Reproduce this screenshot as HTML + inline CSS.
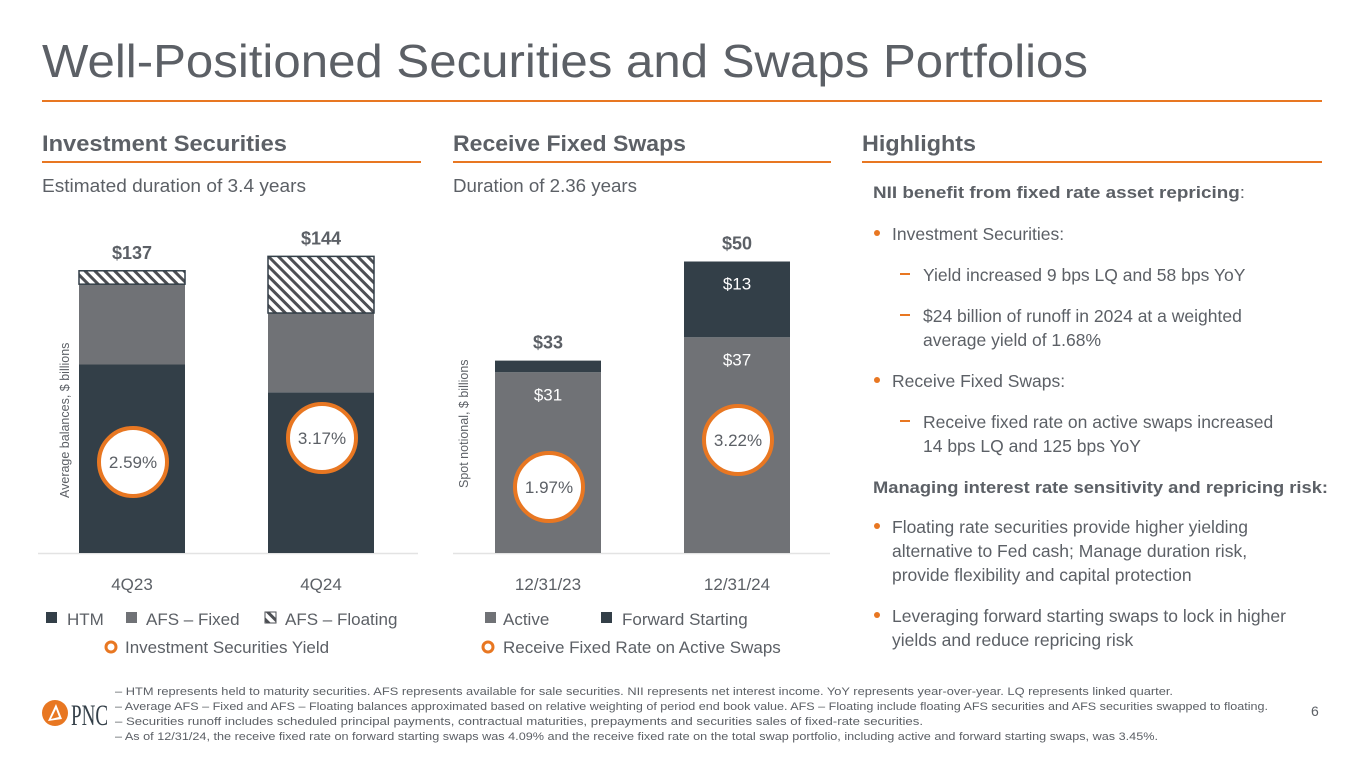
<!DOCTYPE html>
<html><head><meta charset="utf-8"><style>
html,body{margin:0;padding:0;background:#fff;}
body{width:1365px;height:768px;overflow:hidden;font-family:"Liberation Sans",sans-serif;}
svg{display:block}
.t{fill:#5c6066;font-family:"Liberation Sans",sans-serif}
.b{font-weight:bold}
</style></head><body>
<svg id="s" width="1365" height="768" viewBox="0 0 1365 768">
<defs>
<pattern id="hatch" patternUnits="userSpaceOnUse" width="7" height="7" patternTransform="rotate(-45)">
<rect width="7" height="7" fill="#fff"/><rect width="3" height="7" fill="#4d4f54"/>
</pattern>
</defs>
<text class="t" x="42" y="77" font-size="46" fill="#4f545a" textLength="1046" lengthAdjust="spacingAndGlyphs">Well-Positioned Securities and Swaps Portfolios</text>
<rect x="42" y="100" width="1280" height="2" fill="#e87722"/>

<text class="t b" x="42" y="151" font-size="22" fill="#4f545a" textLength="245" lengthAdjust="spacingAndGlyphs">Investment Securities</text>
<rect x="42" y="161" width="379" height="2" fill="#e87722"/>
<text class="t" x="42" y="192" font-size="18" textLength="264" lengthAdjust="spacingAndGlyphs">Estimated duration of 3.4 years</text>

<text class="t b" x="453" y="151" font-size="22" fill="#4f545a" textLength="233" lengthAdjust="spacingAndGlyphs">Receive Fixed Swaps</text>
<rect x="453" y="161" width="378" height="2" fill="#e87722"/>
<text class="t" x="453" y="192" font-size="18" textLength="184" lengthAdjust="spacingAndGlyphs">Duration of 2.36 years</text>

<text class="t b" x="862" y="151" font-size="22" fill="#4f545a" textLength="114" lengthAdjust="spacingAndGlyphs">Highlights</text>
<rect x="862" y="161" width="460" height="2" fill="#e87722"/>

<g id="chart1"></g>
<g id="chart2"></g>

<text class="t" font-size="12.5" transform="translate(69,498) rotate(-90)">Average balances, $ billions</text>
<text class="t" font-size="12.5" transform="translate(468,488) rotate(-90)">Spot notional, $ billions</text>

<g>
<rect x="46" y="612" width="11" height="11" fill="#333f48"/>
<text class="t" x="67" y="625" font-size="17">HTM</text>
<rect x="126" y="612" width="11" height="11" fill="#707276"/>
<text class="t" x="146" y="625" font-size="17">AFS – Fixed</text>
<rect x="265" y="612" width="11" height="11" fill="url(#hatch)" stroke="#4d4f54" stroke-width="1"/>
<text class="t" x="285" y="625" font-size="17">AFS – Floating</text>
<circle cx="111" cy="647" r="5" fill="#fff" stroke="#e87722" stroke-width="3"/>
<text class="t" x="125" y="653" font-size="17">Investment Securities Yield</text>
</g>
<g>
<rect x="485" y="612" width="11" height="11" fill="#707276"/>
<text class="t" x="503" y="625" font-size="17">Active</text>
<rect x="601" y="612" width="11" height="11" fill="#333f48"/>
<text class="t" x="622" y="625" font-size="17">Forward Starting</text>
<circle cx="488" cy="647" r="5" fill="#fff" stroke="#e87722" stroke-width="3"/>
<text class="t" x="503" y="653" font-size="17">Receive Fixed Rate on Active Swaps</text>
</g>

<g font-size="17.5">
<text class="t b" x="873" y="198" font-size="17" textLength="372" lengthAdjust="spacingAndGlyphs">NII benefit from fixed rate asset repricing<tspan font-weight="normal">:</tspan></text>
<circle cx="877" cy="233" r="3" fill="#e87722"/>
<text class="t" x="892" y="240">Investment Securities:</text>
<rect x="900" y="273" width="10" height="2" fill="#e87722"/>
<text class="t" x="923" y="281">Yield increased 9 bps LQ and 58 bps YoY</text>
<rect x="900" y="314" width="10" height="2" fill="#e87722"/>
<text class="t" x="923" y="322">$24 billion of runoff in 2024 at a weighted</text>
<text class="t" x="923" y="346">average yield of 1.68%</text>
<circle cx="877" cy="380" r="3" fill="#e87722"/>
<text class="t" x="892" y="387">Receive Fixed Swaps:</text>
<rect x="900" y="420" width="10" height="2" fill="#e87722"/>
<text class="t" x="923" y="428">Receive fixed rate on active swaps increased</text>
<text class="t" x="923" y="452">14 bps LQ and 125 bps YoY</text>
<text class="t b" x="873" y="493" font-size="17" textLength="455" lengthAdjust="spacingAndGlyphs">Managing interest rate sensitivity and repricing risk:</text>
<circle cx="877" cy="526" r="3" fill="#e87722"/>
<text class="t" x="892" y="533">Floating rate securities provide higher yielding</text>
<text class="t" x="892" y="557">alternative to Fed cash; Manage duration risk,</text>
<text class="t" x="892" y="581">provide flexibility and capital protection</text>
<circle cx="877" cy="615" r="3" fill="#e87722"/>
<text class="t" x="892" y="622">Leveraging forward starting swaps to lock in higher</text>
<text class="t" x="892" y="646">yields and reduce repricing risk</text>
</g>

<g>
<circle cx="55" cy="713" r="13" fill="#e87722"/>
<path d="M48 721 L56 704 L62 719 Z" fill="#fff"/>
<path d="M51 719 L56 709 L59 717 Z" fill="#e87722"/>
<text x="71" y="725" font-size="30" fill="#333f48" font-family="Liberation Serif,serif" textLength="37" lengthAdjust="spacingAndGlyphs">PNC</text>
</g>
<g>
<text class="t" x="115" y="695" font-size="11" fill="#7a7d82" textLength="1058" lengthAdjust="spacingAndGlyphs">– HTM represents held to maturity securities. AFS represents available for sale securities. NII represents net interest income. YoY represents year-over-year. LQ represents linked quarter.</text>
<text class="t" x="115" y="710" font-size="11" fill="#7a7d82" textLength="1153" lengthAdjust="spacingAndGlyphs">– Average AFS – Fixed and AFS – Floating balances approximated based on relative weighting of period end book value. AFS – Floating include floating AFS securities and AFS securities swapped to floating.</text>
<text class="t" x="115" y="725" font-size="11" fill="#7a7d82" textLength="808" lengthAdjust="spacingAndGlyphs">– Securities runoff includes scheduled principal payments, contractual maturities, prepayments and securities sales of fixed-rate securities.</text>
<text class="t" x="115" y="740" font-size="11" fill="#7a7d82" textLength="1043" lengthAdjust="spacingAndGlyphs">– As of 12/31/24, the receive fixed rate on forward starting swaps was 4.09% and the receive fixed rate on the total swap portfolio, including active and forward starting swaps, was 3.45%.</text>
</g>
<text class="t" x="1311" y="716" font-size="14">6</text>
</svg>
<script>
const NS="http://www.w3.org/2000/svg";
const secCategories=["4Q23","4Q24"];
const htmValues=[91.5,78];
const afsFixedValues=[39,38.5];
const afsFloatingValues=[6.5,27.5];
const secTotals=["$137","$144"];
const secYieldLabels=["2.59%","3.17%"];
const secYieldValues=[2.59,3.17];
const swapCategories=["12/31/23","12/31/24"];
const activeValues=[31,37];
const forwardValues=[2,13];
const swapTotals=["$33","$50"];
const activeLabels=["$31","$37"];
const forwardLabels=["","$13"];
const swapRateLabels=["1.97%","3.22%"];
const swapRateValues=[1.97,3.22];

function mk(tag,attrs,parent,txt){const e=document.createElementNS(NS,tag);for(const k in attrs)e.setAttribute(k,attrs[k]);if(txt!==undefined)e.textContent=txt;parent.appendChild(e);return e;}

function drawChart(g,cfg){
  const base=553;
  const y=v=>base-v*cfg.scale;
  const bx=i=>cfg.x0+i*cfg.step;
  const ax=mk('line',{x1:cfg.axisX1,x2:cfg.axisX2,y1:base+0.5,y2:base+0.5,stroke:'#e3e3e3','stroke-width':1.5},g);
  
  
  cfg.categories.forEach((c,i)=>{
    let acc=0;
    cfg.series.forEach(s=>{
      const v=s.values[i];
      if(v>0){
        const r=mk('rect',{x:bx(i),y:y(acc+v),width:cfg.w,height:v*cfg.scale,fill:s.fill,stroke:s.stroke||'none','stroke-width':s.stroke?1.5:0},g);
        
        
        if(s.labels&&s.labels[i]){
          const t=mk('text',{x:bx(i)+cfg.w/2,y:y(acc+v)+28,'text-anchor':'middle','font-size':17,fill:'#fff','font-family':'Liberation Sans,sans-serif'},g,s.labels[i]);
          
          
        }
      }
      acc+=v;
    });
    const tt=mk('text',{x:bx(i)+cfg.w/2,y:y(acc)-12,'text-anchor':'middle','font-size':18,'font-weight':'bold',fill:'#5c6066','font-family':'Liberation Sans,sans-serif'},g,cfg.totals[i]);
    
    
    const cl=mk('text',{x:bx(i)+cfg.w/2,y:590,'text-anchor':'middle','font-size':17,fill:'#5c6066','font-family':'Liberation Sans,sans-serif'},g,c);
    
    
    const cy=cfg.rateY(cfg.rates[i]);
    const ci=mk('circle',{cx:bx(i)+cfg.w/2+1,cy:cy,r:34,fill:'#fff',stroke:'#e87722','stroke-width':4},g);
    
    
    const ct=mk('text',{x:bx(i)+cfg.w/2+1,y:cy+6,'text-anchor':'middle','font-size':17,fill:'#5c6066','font-family':'Liberation Sans,sans-serif'},g,cfg.rateLabels[i]);
    
    
  });
}
drawChart(document.getElementById('chart1'),{
  categories:secCategories,totals:secTotals,scale:2.06,x0:79,step:189,w:106,axisX1:38,axisX2:418,
  series:[{name:'htm',values:htmValues,fill:'#333f48'},{name:'afs-fixed',values:afsFixedValues,fill:'#707276'},{name:'afs-floating',values:afsFloatingValues,fill:'url(#hatch)',stroke:'#333f48'}],
  rates:secYieldValues,rateLabels:secYieldLabels,rateY:r=>462-(r-2.59)*41.4
});
drawChart(document.getElementById('chart2'),{
  categories:swapCategories,totals:swapTotals,scale:5.83,x0:495,step:189,w:106,axisX1:453,axisX2:830,
  series:[{name:'active',values:activeValues,fill:'#707276',labels:activeLabels},{name:'forward',values:forwardValues,fill:'#333f48',labels:forwardLabels}],
  rates:swapRateValues,rateLabels:swapRateLabels,rateY:r=>487-(r-1.97)*37.6
});
</script>
</body></html>
